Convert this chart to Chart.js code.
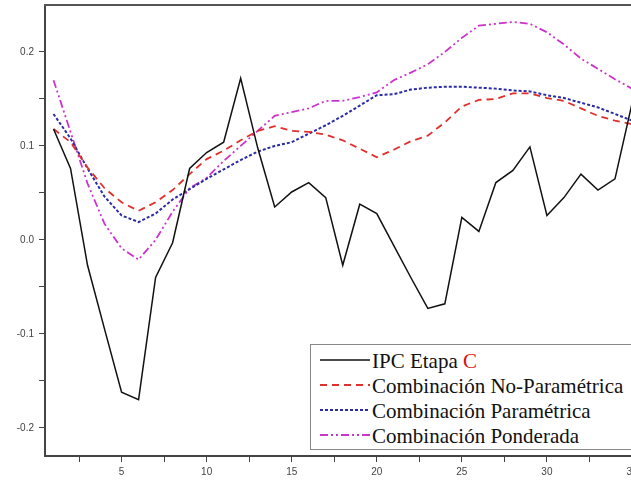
<!DOCTYPE html>
<html>
<head>
<meta charset="utf-8">
<script src="https://cdn.jsdelivr.net/npm/chart.js@4.4.1/dist/chart.umd.min.js"></script>
<style>
  html, body { margin: 0; padding: 0; background: #fff; overflow: hidden; }
  #wrap { position: relative; width: 660px; height: 484px; }
  #legend {
    position: absolute; left: 310px; top: 344px; width: 340px; height: 100px;
    padding-top: 4px; border: 1px solid #888; background: #fff;
    font-family: "Liberation Serif", "Times New Roman", serif; font-size: 21px; color: #111;
  }
  #legend .row { height: 25px; line-height: 25px; white-space: nowrap; }
  #legend svg { vertical-align: middle; margin-left: 9px; margin-right: 2px; position: relative; top: -3px; }
</style>
</head>
<body>
<div id="wrap">
  <canvas id="linechart"></canvas>
  <div id="legend"></div>
</div>
<script>
const periods = [1, 2, 3, 4, 5, 6, 7, 8, 9, 10, 11, 12, 13, 14, 15, 16, 17, 18, 19, 20,
  21, 22, 23, 24, 25, 26, 27, 28, 29, 30, 31, 32, 33, 34, 35];

const ipcEtapaC = [0.118, 0.076, -0.027, -0.095, -0.162, -0.170, -0.040, -0.003, 0.076, 0.093,
  0.104, 0.172, 0.098, 0.035, 0.051, 0.061, 0.045, -0.027, 0.038, 0.028,
  -0.006, -0.040, -0.073, -0.068, 0.024, 0.009, 0.061, 0.074, 0.099, 0.026,
  0.045, 0.070, 0.053, 0.065, 0.145];

const noParametrica = [0.118, 0.104, 0.077, 0.055, 0.040, 0.031, 0.040, 0.053, 0.070, 0.086,
  0.095, 0.106, 0.116, 0.121, 0.116, 0.115, 0.112, 0.106, 0.097, 0.088,
  0.096, 0.105, 0.111, 0.125, 0.142, 0.149, 0.150, 0.156, 0.156, 0.151,
  0.148, 0.140, 0.132, 0.127, 0.123];

const parametrica = [0.134, 0.108, 0.076, 0.046, 0.026, 0.019, 0.028, 0.043, 0.054, 0.065,
  0.075, 0.085, 0.094, 0.100, 0.104, 0.113, 0.122, 0.132, 0.143, 0.154,
  0.155, 0.160, 0.162, 0.163, 0.163, 0.162, 0.161, 0.159, 0.158, 0.154,
  0.151, 0.146, 0.141, 0.134, 0.127];

const ponderada = [0.170, 0.115, 0.060, 0.017, -0.009, -0.021, 0.000, 0.030, 0.055, 0.066,
  0.084, 0.100, 0.116, 0.132, 0.136, 0.140, 0.148, 0.148, 0.152, 0.157,
  0.170, 0.178, 0.187, 0.200, 0.215, 0.228, 0.230, 0.232, 0.230, 0.221,
  0.208, 0.193, 0.182, 0.171, 0.161];

const seriesNames = ['IPC Etapa C', 'Combinación No-Paramétrica', 'Combinación Paramétrica', 'Combinación Ponderada'];
const xTicks = [2.5, 5, 7.5, 10, 12.5, 15, 17.5, 20, 22.5, 25, 27.5, 30, 32.5, 35];
const yTicks = [-0.2, -0.15, -0.1, -0.05, 0, 0.05, 0.1, 0.15, 0.2];

const styles = [
  { color: '#111111', dash: [], width: 1.5 },
  { color: '#e0302c', dash: [7, 5], width: 1.8 },
  { color: '#2b2ba6', dash: [3, 2], width: 2 },
  { color: '#cc33cc', dash: [8, 3, 2, 3, 2, 3], width: 1.8 }
];

function pts(vals) {
  return periods.map((p, i) => ({ x: p, y: vals[i] }));
}

const allSeries = [ipcEtapaC, noParametrica, parametrica, ponderada];

const data = {
  datasets: allSeries.map((s, i) => ({
    label: seriesNames[i],
    data: pts(s),
    borderColor: styles[i].color,
    borderDash: styles[i].dash,
    borderWidth: styles[i].width,
    pointRadius: 0,
    fill: false,
    tension: 0
  }))
};

// top frame line
const frame = {
  id: 'frame',
  afterDraw(chart) {
    const a = chart.chartArea;
    const c = chart.ctx;
    c.save();
    c.strokeStyle = '#555';
    c.lineWidth = 2;
    c.beginPath();
    c.moveTo(a.left - 1, a.top);
    c.lineTo(chart.width, a.top);
    c.stroke();
    c.restore();
  }
};

const tickFont = { family: '"Liberation Sans", Arial, sans-serif', size: 10 };

const config = {
  type: 'line',
  data: data,
  options: {
    responsive: true,
    maintainAspectRatio: false,
    animation: false,
    layout: { padding: { top: 5, right: 28, left: 0, bottom: 0 } },
    plugins: { legend: { display: false }, tooltip: { enabled: false } },
    scales: {
      x: {
        type: 'linear',
        min: 0.5,
        max: 35,
        afterBuildTicks: s => { s.ticks = xTicks.map(v => ({ value: v })); },
        afterFit: s => { s.height = 28; s.paddingLeft = 0; },
        ticks: {
          autoSkip: false,
          maxRotation: 0,
          padding: 4,
          color: '#444',
          font: tickFont,
          callback: v => (v % 5 === 0 ? String(v) : '')
        },
        grid: { drawOnChartArea: false, tickLength: 6, color: '#444' },
        border: { color: '#444', width: 2 }
      },
      y: {
        min: -0.23,
        max: 0.25,
        afterBuildTicks: s => { s.ticks = yTicks.map(v => ({ value: v })); },
        afterFit: s => { s.width = 45; s.paddingTop = 0; s.paddingBottom = 0; },
        ticks: {
          autoSkip: false,
          padding: 5,
          color: '#444',
          font: tickFont,
          callback: v => (Math.abs(v * 10 - Math.round(v * 10)) < 1e-6 ? v.toFixed(1) : '')
        },
        grid: { drawOnChartArea: false, tickLength: 6, color: '#444' },
        border: { color: '#444', width: 2 }
      }
    }
  },
  plugins: [frame]
};

const linechart = new Chart(document.getElementById('linechart'), config);

// HTML legend built from the datasets
const legend = document.getElementById('legend');
linechart.data.datasets.forEach(ds => {
  const row = document.createElement('div');
  row.className = 'row';
  const ns = 'http://www.w3.org/2000/svg';
  const svg = document.createElementNS(ns, 'svg');
  svg.setAttribute('width', '50');
  svg.setAttribute('height', '6');
  const ln = document.createElementNS(ns, 'line');
  ln.setAttribute('x1', '0'); ln.setAttribute('x2', '50');
  ln.setAttribute('y1', '3'); ln.setAttribute('y2', '3');
  ln.setAttribute('stroke', ds.borderColor);
  ln.setAttribute('stroke-width', ds.borderWidth);
  if (ds.borderDash.length) ln.setAttribute('stroke-dasharray', ds.borderDash.join(' '));
  svg.appendChild(ln);
  row.appendChild(svg);
  if (ds.label === 'IPC Etapa C') {
    row.appendChild(document.createTextNode('IPC Etapa '));
    const c = document.createElement('span');
    c.style.color = '#e01010';
    c.textContent = 'C';
    row.appendChild(c);
  } else {
    row.appendChild(document.createTextNode(ds.label));
  }
  legend.appendChild(row);
});
</script>
</body>
</html>
